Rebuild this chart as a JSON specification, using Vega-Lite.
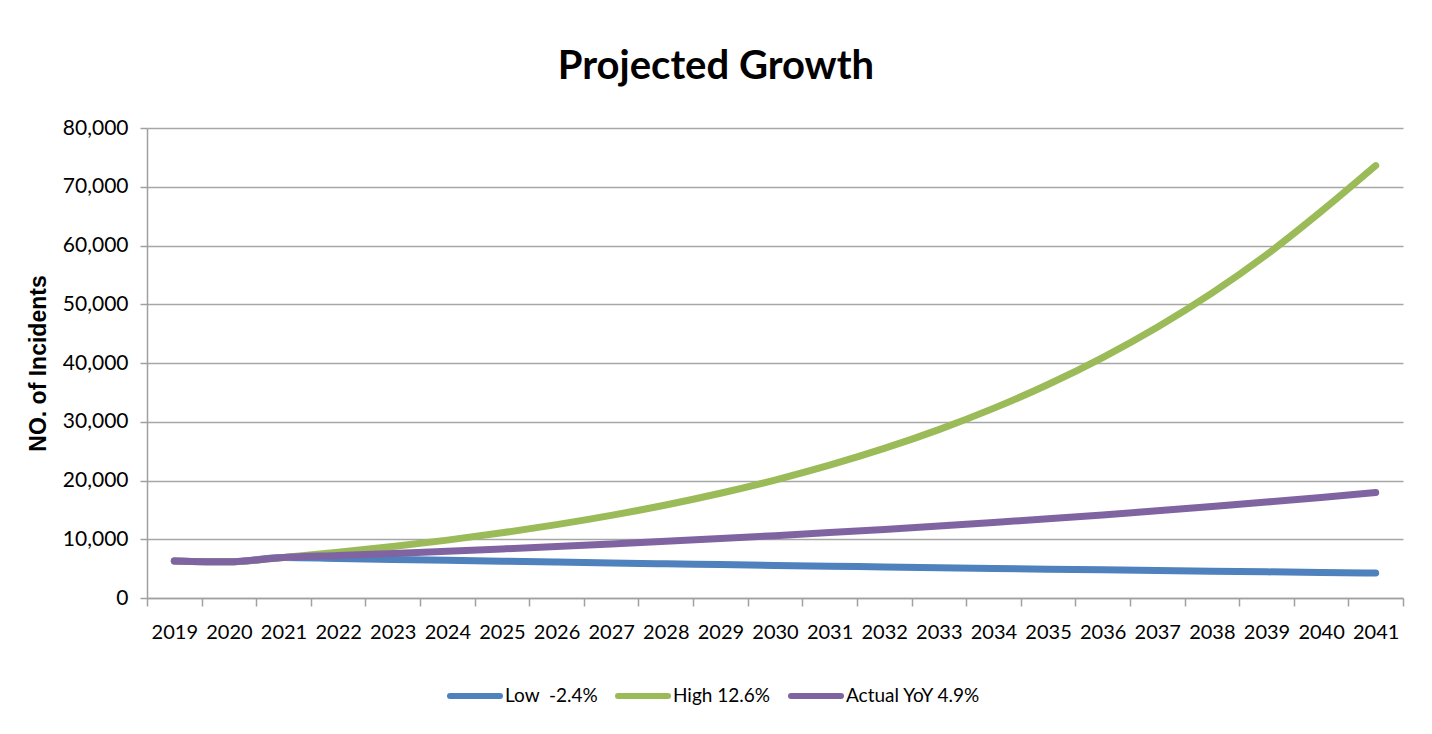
{
  "$schema": "https://vega.github.io/schema/vega-lite/v6.json",
  "width": 1256,
  "height": 470,
  "autosize": "none",
  "padding": {"left": 147, "top": 128, "right": 29, "bottom": 136},
  "background": "white",
  "title": {
    "text": "Projected Growth",
    "font": "Lato",
    "fontSize": 40,
    "fontWeight": "bold",
    "color": "black",
    "anchor": "middle",
    "dx": -59,
    "baseline": "alphabetic",
    "offset": 50,
    "dy": 52
  },
  "data": {
    "values": [
      {"year": "2019", "series": "Low\u00a0 -2.4%", "value": 6300},
      {"year": "2020", "series": "Low\u00a0 -2.4%", "value": 6150},
      {"year": "2021", "series": "Low\u00a0 -2.4%", "value": 6900},
      {"year": "2022", "series": "Low\u00a0 -2.4%", "value": 6734},
      {"year": "2023", "series": "Low\u00a0 -2.4%", "value": 6573},
      {"year": "2024", "series": "Low\u00a0 -2.4%", "value": 6415},
      {"year": "2025", "series": "Low\u00a0 -2.4%", "value": 6261},
      {"year": "2026", "series": "Low\u00a0 -2.4%", "value": 6111},
      {"year": "2027", "series": "Low\u00a0 -2.4%", "value": 5964},
      {"year": "2028", "series": "Low\u00a0 -2.4%", "value": 5821},
      {"year": "2029", "series": "Low\u00a0 -2.4%", "value": 5681},
      {"year": "2030", "series": "Low\u00a0 -2.4%", "value": 5545},
      {"year": "2031", "series": "Low\u00a0 -2.4%", "value": 5412},
      {"year": "2032", "series": "Low\u00a0 -2.4%", "value": 5282},
      {"year": "2033", "series": "Low\u00a0 -2.4%", "value": 5155},
      {"year": "2034", "series": "Low\u00a0 -2.4%", "value": 5031},
      {"year": "2035", "series": "Low\u00a0 -2.4%", "value": 4911},
      {"year": "2036", "series": "Low\u00a0 -2.4%", "value": 4793},
      {"year": "2037", "series": "Low\u00a0 -2.4%", "value": 4678},
      {"year": "2038", "series": "Low\u00a0 -2.4%", "value": 4565},
      {"year": "2039", "series": "Low\u00a0 -2.4%", "value": 4456},
      {"year": "2040", "series": "Low\u00a0 -2.4%", "value": 4349},
      {"year": "2041", "series": "Low\u00a0 -2.4%", "value": 4245},
      {"year": "2019", "series": "High 12.6%", "value": 6300},
      {"year": "2020", "series": "High 12.6%", "value": 6150},
      {"year": "2021", "series": "High 12.6%", "value": 6900},
      {"year": "2022", "series": "High 12.6%", "value": 7769},
      {"year": "2023", "series": "High 12.6%", "value": 8748},
      {"year": "2024", "series": "High 12.6%", "value": 9851},
      {"year": "2025", "series": "High 12.6%", "value": 11092},
      {"year": "2026", "series": "High 12.6%", "value": 12489},
      {"year": "2027", "series": "High 12.6%", "value": 14063},
      {"year": "2028", "series": "High 12.6%", "value": 15835},
      {"year": "2029", "series": "High 12.6%", "value": 17830},
      {"year": "2030", "series": "High 12.6%", "value": 20077},
      {"year": "2031", "series": "High 12.6%", "value": 22607},
      {"year": "2032", "series": "High 12.6%", "value": 25455},
      {"year": "2033", "series": "High 12.6%", "value": 28663},
      {"year": "2034", "series": "High 12.6%", "value": 32274},
      {"year": "2035", "series": "High 12.6%", "value": 36341},
      {"year": "2036", "series": "High 12.6%", "value": 40920},
      {"year": "2037", "series": "High 12.6%", "value": 46076},
      {"year": "2038", "series": "High 12.6%", "value": 51881},
      {"year": "2039", "series": "High 12.6%", "value": 58418},
      {"year": "2040", "series": "High 12.6%", "value": 65779},
      {"year": "2041", "series": "High 12.6%", "value": 73600},
      {"year": "2019", "series": "Actual YoY 4.9%", "value": 6300},
      {"year": "2020", "series": "Actual YoY 4.9%", "value": 6150},
      {"year": "2021", "series": "Actual YoY 4.9%", "value": 6900},
      {"year": "2022", "series": "Actual YoY 4.9%", "value": 7238},
      {"year": "2023", "series": "Actual YoY 4.9%", "value": 7593},
      {"year": "2024", "series": "Actual YoY 4.9%", "value": 7965},
      {"year": "2025", "series": "Actual YoY 4.9%", "value": 8355},
      {"year": "2026", "series": "Actual YoY 4.9%", "value": 8764},
      {"year": "2027", "series": "Actual YoY 4.9%", "value": 9194},
      {"year": "2028", "series": "Actual YoY 4.9%", "value": 9644},
      {"year": "2029", "series": "Actual YoY 4.9%", "value": 10117},
      {"year": "2030", "series": "Actual YoY 4.9%", "value": 10613},
      {"year": "2031", "series": "Actual YoY 4.9%", "value": 11133},
      {"year": "2032", "series": "Actual YoY 4.9%", "value": 11678},
      {"year": "2033", "series": "Actual YoY 4.9%", "value": 12250},
      {"year": "2034", "series": "Actual YoY 4.9%", "value": 12851},
      {"year": "2035", "series": "Actual YoY 4.9%", "value": 13480},
      {"year": "2036", "series": "Actual YoY 4.9%", "value": 14141},
      {"year": "2037", "series": "Actual YoY 4.9%", "value": 14834},
      {"year": "2038", "series": "Actual YoY 4.9%", "value": 15560},
      {"year": "2039", "series": "Actual YoY 4.9%", "value": 16323},
      {"year": "2040", "series": "Actual YoY 4.9%", "value": 17122},
      {"year": "2041", "series": "Actual YoY 4.9%", "value": 17961}
    ]
  },
  "mark": {"type": "line", "strokeWidth": 7, "strokeCap": "round", "strokeJoin": "round", "interpolate": "monotone"},
  "encoding": {
    "x": {
      "field": "year",
      "type": "ordinal",
      "bandPosition": 0.5,
      "scale": {"type": "band", "paddingInner": 0, "paddingOuter": 0},
      "axis": {
        "title": null,
        "labelAngle": 0,
        "tickBand": "extent",
        "labelFont": "Lato",
        "labelFontSize": 20,
        "labelColor": "black",
        "labelPadding": 16,
        "tickSize": 8,
        "tickColor": "#A0A0A0",
        "domainColor": "#A0A0A0",
        "tickWidth": 1.5,
        "domainWidth": 1.5,
        "grid": false
      }
    },
    "y": {
      "field": "value",
      "type": "quantitative",
      "scale": {"domain": [0, 80000], "nice": false},
      "axis": {
        "title": "NO. of Incidents",
        "titleFont": "Liberation Sans, Arial",
        "titleFontSize": 23,
        "titleFontWeight": "bold",
        "titleColor": "black",
        "titlePadding": 12,
        "values": [0, 10000, 20000, 30000, 40000, 50000, 60000, 70000, 80000],
        "format": ",d",
        "labelFont": "Lato",
        "labelFontSize": 21,
        "labelColor": "black",
        "labelPadding": 12,
        "tickSize": 7,
        "tickColor": "#A0A0A0",
        "domainColor": "#A0A0A0",
        "tickWidth": 1.5,
        "domainWidth": 1.5,
        "grid": true,
        "gridColor": "#A6A6A6",
        "gridWidth": 1.5
      }
    },
    "color": {
      "field": "series",
      "type": "nominal",
      "sort": ["Low\u00a0 -2.4%", "High 12.6%", "Actual YoY 4.9%"],
      "scale": {
        "domain": ["Low\u00a0 -2.4%", "High 12.6%", "Actual YoY 4.9%"],
        "range": ["#4F81BD", "#9BBB59", "#8064A2"]
      },
      "legend": {
        "title": null,
        "orient": "none",
        "legendX": 300,
        "legendY": 540,
        "direction": "horizontal",
        "symbolType": "stroke",
        "symbolSize": 2500,
        "symbolStrokeWidth": 6,
        "labelFont": "Lato",
        "labelFontSize": 19,
        "labelColor": "black",
        "labelLimit": 0,
        "labelOffset": 2,
        "columnPadding": 8,
        "encode": {"symbols": {"update": {"strokeCap": {"value": "round"}}}}
      }
    }
  },
  "config": {"view": {"stroke": null}}
}
